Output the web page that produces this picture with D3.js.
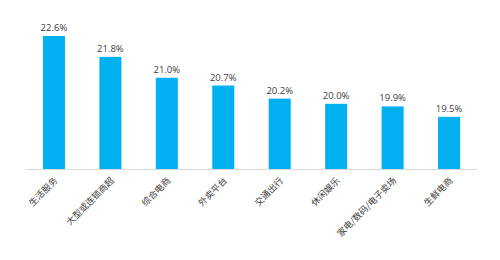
<!DOCTYPE html>
<html>
<head>
<meta charset="utf-8">
<script src="https://cdn.jsdelivr.net/npm/d3@7"></script>
<style>
body { margin: 0; background: #fff; }
</style>
</head>
<body>
<div id="chart"></div>
<script>
var categories = ["生活服务", "大型或连锁商超", "综合电商", "外卖平台", "交通出行", "休闲娱乐", "家电/数码/电子卖场", "生鲜电商"];
var values = [22.6, 21.8, 21.0, 20.7, 20.2, 20.0, 19.9, 19.5];

var width = 500, height = 260;
var margin = {top: 20, right: 23, bottom: 91, left: 26};

var svg = d3.select("#chart").append("svg")
	.attr("width", width)
	.attr("height", height);

var x = d3.scaleBand()
	.domain(categories)
	.range([margin.left, width - margin.right])
	.paddingInner(0.61)
	.paddingOuter(0.3);

var y = d3.scaleLinear()
	.domain([17.5, 22.6])
	.range([height - margin.bottom, 36]);

// bars
svg.selectAll(".bar")
	.data(values)
	.enter().append("rect")
	.attr("class", "bar")
	.attr("x", function(d, i) { return x(categories[i]); })
	.attr("y", function(d) { return y(d); })
	.attr("width", x.bandwidth())
	.attr("height", function(d) { return y(17.5) - y(d); })
	.attr("fill", "#00b0f0");

// value labels
svg.selectAll(".val")
	.data(values)
	.enter().append("text")
	.attr("class", "val")
	.attr("x", function(d, i) { return x(categories[i]) + x.bandwidth() / 2; })
	.attr("y", function(d) { return y(d) - 5; })
	.attr("text-anchor", "middle")
	.attr("font-family", "'Open Sans', sans-serif")
	.attr("font-size", "9.5px")
	.attr("fill", "#404040")
	.text(function(d) { return d.toFixed(1) + "%"; });

// x axis
var xAxis = svg.append("g")
	.attr("transform", "translate(0," + (height - margin.bottom) + ")")
	.call(d3.axisBottom(x).tickSize(0).tickSizeOuter(0));

xAxis.select(".domain")
	.attr("stroke", "#d9d9d9")
	.attr("d", "M" + margin.left + ",0.5H" + (width - margin.right));

xAxis.selectAll("text")
	.attr("font-family", "'Noto Sans CJK SC', sans-serif")
	.attr("font-size", "9px")
	.attr("fill", "#404040")
	.attr("text-anchor", "end")
	.attr("dy", "0.35em")
	.attr("transform", "translate(2,10) rotate(-45)")
	.attr("x", 0)
	.attr("y", 0);
</script>
</body>
</html>
